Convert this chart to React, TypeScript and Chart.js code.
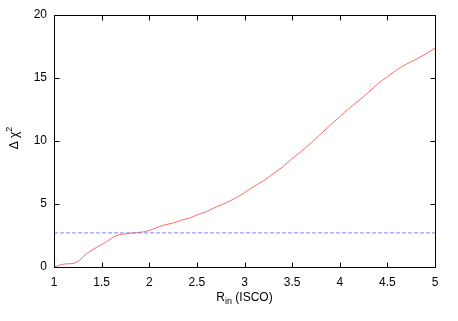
import React, { useEffect, useRef } from "react";
import { Chart, registerables } from "chart.js";

Chart.register(...registerables);

const rIn = [1.0, 1.05, 1.11, 1.2, 1.27, 1.34, 1.4, 1.46, 1.55, 1.6, 1.65, 1.72, 1.79, 1.87, 1.95, 2.0, 2.07, 2.14, 2.21, 2.28, 2.35, 2.42, 2.5, 2.6, 2.71, 2.8, 2.9, 3.0, 3.1, 3.2, 3.3, 3.4, 3.5, 3.6, 3.7, 3.8, 3.9, 4.0, 4.1, 4.2, 4.3, 4.4, 4.5, 4.6, 4.7, 4.8, 4.9, 5.0];
const deltaChi2 = [0, 0.12, 0.24, 0.28, 0.55, 1.05, 1.35, 1.62, 2.0, 2.25, 2.48, 2.6, 2.67, 2.73, 2.8, 2.9, 3.1, 3.3, 3.42, 3.55, 3.75, 3.88, 4.13, 4.4, 4.79, 5.07, 5.45, 5.9, 6.4, 6.85, 7.4, 7.95, 8.6, 9.2, 9.85, 10.55, 11.25, 11.93, 12.6, 13.2, 13.85, 14.55, 15.1, 15.65, 16.1, 16.48, 16.9, 17.36];
const thresholdX = [1, 5];
const thresholdY = [2.706, 2.706];
const xTicks = [1, 1.5, 2, 2.5, 3, 3.5, 4, 4.5, 5];
const yTicks = [0, 5, 10, 15, 20];

const FONT = "'Liberation Sans', Arial, sans-serif";

const framePlugin = {
  id: "frame",
  afterDatasetsDraw(chart: any) {
    const { ctx, chartArea: a, scales } = chart;
    const L = Math.round(a.left) + 0.5;
    const R = Math.round(a.right) + 0.5;
    const T = Math.round(a.top) + 0.5;
    const B = Math.round(a.bottom) + 0.5;
    ctx.save();
    ctx.strokeStyle = "#000";
    ctx.lineWidth = 1;
    ctx.beginPath();
    ctx.rect(L, T, R - L, B - T);
    const tl = 5;
    for (const v of xTicks) {
      const x = Math.round(scales.x.getPixelForValue(v)) + 0.5;
      ctx.moveTo(x, B);
      ctx.lineTo(x, B - tl);
      ctx.moveTo(x, T);
      ctx.lineTo(x, T + tl);
    }
    for (const v of yTicks) {
      const y = Math.round(scales.y.getPixelForValue(v)) + 0.5;
      ctx.moveTo(L, y);
      ctx.lineTo(L + tl, y);
      ctx.moveTo(R, y);
      ctx.lineTo(R - tl, y);
    }
    ctx.stroke();

    // axis titles
    ctx.fillStyle = "#000";
    ctx.textBaseline = "alphabetic";
    // x title: R_in (ISCO)
    const cx = (a.left + a.right) / 2;
    const by = 301;
    ctx.font = `12px ${FONT}`;
    const wR = ctx.measureText("R").width;
    ctx.font = `9px ${FONT}`;
    const wSub = ctx.measureText("in").width;
    ctx.font = `12px ${FONT}`;
    const wRest = ctx.measureText(" (ISCO)").width;
    let x0 = cx - (wR + wSub + wRest) / 2;
    ctx.textAlign = "left";
    ctx.fillText("R", x0, by);
    ctx.font = `9px ${FONT}`;
    ctx.fillText("in", x0 + wR, by + 3);
    ctx.font = `12px ${FONT}`;
    ctx.fillText(" (ISCO)", x0 + wR + wSub, by);

    // y title: Δ χ^2 rotated
    ctx.save();
    ctx.translate(18, (a.top + a.bottom) / 2 - 3);
    ctx.rotate(-Math.PI / 2);
    ctx.font = `12px ${FONT}`;
    const wMain = ctx.measureText("Δ χ").width;
    ctx.font = `9px ${FONT}`;
    const wSup = ctx.measureText("2").width;
    const sx = -(wMain + wSup) / 2;
    ctx.font = `12px ${FONT}`;
    ctx.fillText("Δ χ", sx, 0);
    ctx.font = `9px ${FONT}`;
    ctx.fillText("2", sx + wMain, -6);
    ctx.restore();

    ctx.restore();
  },
};

export default function App() {
  const ref = useRef<HTMLCanvasElement | null>(null);
  useEffect(() => {
    if (!ref.current) return;
    const chart = new Chart(ref.current, {
      type: "line",
      data: {
        datasets: [
          {
            label: "threshold",
            data: thresholdX.map((x, i) => ({ x, y: thresholdY[i] })),
            borderColor: "#8080f0",
            borderWidth: 1,
            borderDash: [4, 2],
            pointRadius: 0,
            fill: false,
          },
          {
            label: "delta chi2",
            data: rIn.map((x, i) => ({ x, y: deltaChi2[i] })),
            borderColor: "#ff6a6a",
            borderWidth: 1,
            pointRadius: 0,
            tension: 0.3,
            cubicInterpolationMode: "monotone",
            fill: false,
          },
        ],
      },
      options: {
        responsive: false,
        animation: false,
        events: [],
        layout: { padding: { top: 15, right: 23, left: 0, bottom: 0 } },
        plugins: { legend: { display: false }, tooltip: { enabled: false } },
        scales: {
          x: {
            type: "linear",
            min: 1,
            max: 5,
            afterFit: (s: any) => { s.height = 54; },
            afterBuildTicks: (s: any) => { s.ticks = xTicks.map((v) => ({ value: v })); },
            grid: { display: false, drawTicks: false },
            border: { display: false },
            ticks: {
              color: "#000",
              font: { family: FONT, size: 12 },
              padding: 8,
              maxRotation: 0,
              autoSkip: false,
              callback: (v: any) => String(v),
            },
          },
          y: {
            type: "linear",
            min: 0,
            max: 20,
            afterFit: (s: any) => { s.width = 54; },
            afterBuildTicks: (s: any) => { s.ticks = yTicks.map((v) => ({ value: v })); },
            grid: { display: false, drawTicks: false },
            border: { display: false },
            ticks: {
              color: "#000",
              font: { family: FONT, size: 12 },
              padding: 7,
              autoSkip: false,
              callback: (v: any) => String(v),
            },
          },
        },
      },
      plugins: [framePlugin],
    } as any);
    return () => chart.destroy();
  }, []);
  return (
    <div style={{ position: "absolute", left: 0, top: 0, width: 458, height: 321, background: "#fff" }}>
      <canvas ref={ref} width={458} height={321} style={{ display: "block" }} />
    </div>
  );
}
